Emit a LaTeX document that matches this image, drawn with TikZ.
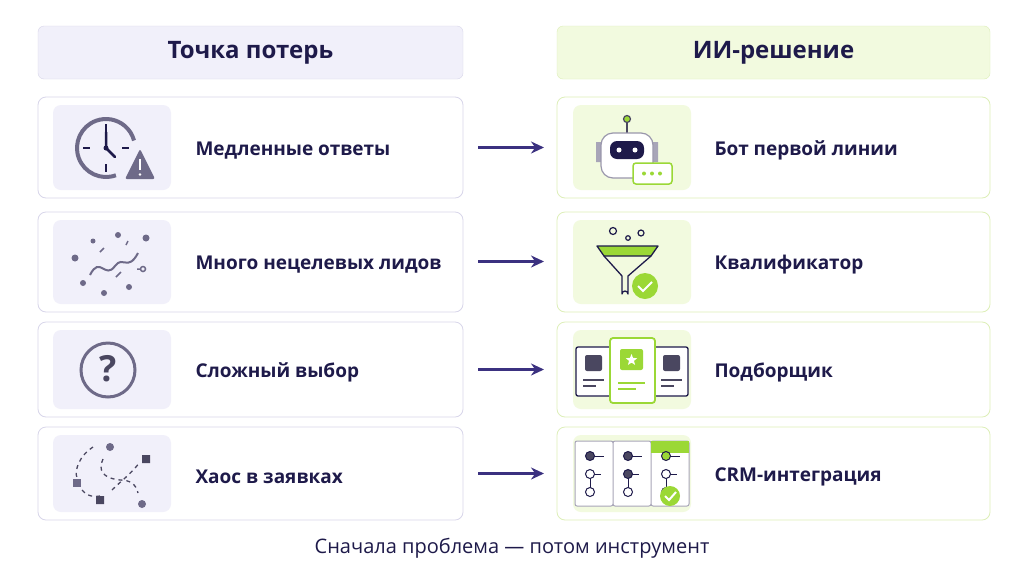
\documentclass[tikz,border=0pt]{standalone}
\usepackage{fontspec}
\setmainfont{Open Sans}
\usetikzlibrary{positioning,shapes.geometric,arrows.meta}

\definecolor{ink}{HTML}{1E1A4A}
\definecolor{lav}{HTML}{F1F0FA}
\definecolor{lavline}{HTML}{D8D6EA}
\definecolor{mint}{HTML}{F2FADF}
\definecolor{mintline}{HTML}{DDEFB8}
\definecolor{lime}{HTML}{9BD836}
\definecolor{slate}{HTML}{6E6A88}
\definecolor{darkslate}{HTML}{4A4760}
\definecolor{arrowc}{HTML}{3B3180}

\tikzset{
  header/.style={rounded corners=6pt, minimum width=425pt, minimum height=53pt,
    font=\fontsize{24}{28}\selectfont\bfseries, text=ink},
  card/.style={rounded corners=8pt, fill=white, minimum width=425pt, line width=0.8pt},
  tile/.style={rounded corners=8pt, minimum width=118pt},
  label/.style={font=\fontsize{19}{22}\selectfont\bfseries, text=ink, anchor=west},
  flow/.style={-{Stealth[length=13pt,width=12pt]}, line width=2.2pt, draw=arrowc},
}

\begin{document}
\begin{tikzpicture}[x=1pt,y=-1pt]

  \useasboundingbox[fill=white] (0,0) rectangle (1024,576);

  % Column headers
  \node[header, fill=lav, draw=lavline] (hLoss) at (250.5,52.5) {Точка потерь};
  \node[header, fill=mint, draw=mintline, minimum width=433pt] (hAI) at (773.5,52.5) {ИИ-решение};

  % Rows: centre y / height / left text / right text / arrow y
  \foreach \y/\h/\lt/\rt/\n/\ay in {147.5/101/Медленные ответы/Бот первой линии/1/147.5,
                               262/100/Много нецелевых лидов/Квалификатор/2/261.5,
                               369.5/95/Сложный выбор/Подборщик/3/369.5,
                               473.5/93/Хаос в заявках/CRM-интеграция/4/473.5} {
    \node[card, draw=lavline, minimum height=\h pt] (loss\n) at (250.5,\y) {};
    \node[card, draw=mintline, minimum width=433pt, minimum height=\h pt] (sol\n) at (773.5,\y) {};
    \node[tile, fill=lav, minimum height=\h pt-16pt] (lt\n) at (112,\y) {};
    \node[tile, fill=mint, minimum height=\h pt-16pt] (rt\n) at (632,\y) {};
    \node[label] (lx\n) at (192,\y+3) {\lt};
    \node[label] (rx\n) at (711,\y+3) {\rt};
    \coordinate (a\n) at (478,\ay);
    \coordinate (b\n) at (544,\ay);
    \draw[flow] (a\n) -- (b\n);
  }

  % Icon 1: clock with warning
  \draw[slate, line width=4pt] (106,148) ++(70:29) arc (70:345:29);
  \draw[ink, line width=2pt] (106,124) -- (106,132) (106,164) -- (106,172)
    (83,148) -- (90,148) (122,148) -- (129,148);
  \draw[ink, line width=2.5pt, line cap=round] (106,132) -- (106,148) -- (115,157);
  \fill[ink] (106,148) circle (2.5pt);
  \fill[slate, rounded corners=2pt] (140,149) -- (155,179) -- (125,179) -- cycle;
  \draw[white, line width=2.2pt] (140,159) -- (140,170);
  \fill[white] (140,174.5) circle (1.4pt);

  % Icon 2: scattered leads
  \draw[slate, line width=2pt] (90,275) .. controls (100,255) and (105,280) .. (115,266)
    .. controls (123,255) and (128,272) .. (138,253);
  \foreach \p/\r in {{(75,258)}/3.5, {(93,241)}/2.5, {(118,235)}/3, {(146,238)}/3.5,
                     {(83,283)}/3, {(104,293)}/3, {(129,287)}/3}
    \fill[slate] \p circle (\r pt);
  \draw[slate, line width=1.5pt] (100,252) -- (104,248) (126,245) -- (128,241)
    (116,277) -- (121,272) (143,269) circle (2.5pt) (137,269) -- (140,269);

  % Icon 3: question
  \draw[slate, line width=3pt] (108,370) circle (27pt);
  \node[text=darkslate, font=\fontsize{36}{36}\selectfont\bfseries] (qm) at (108,369) {?};

  % Icon 4: chaos of requests
  \draw[darkslate, line width=1.3pt, dash pattern=on 4pt off 4pt]
    (93,447) .. controls (80,455) and (74,470) .. (77,478)
    (82,490) .. controls (88,497) and (95,497) .. (100,496)
    (103,459) .. controls (98,470) and (102,478) .. (120,480)
    .. controls (130,480) and (136,484) .. (138,493)
    (112,490) .. controls (122,480) and (130,475) .. (140,462);
  \fill[slate] (110,447) circle (4pt) (142,504) circle (4pt);
  \fill[slate] (73,479) rectangle +(8,8);
  \fill[darkslate] (96,496) rectangle +(8,8) (142,455) rectangle +(8,8);

  % Icon 5: bot
  \draw[darkslate, line width=1.2pt] (627,123) -- (627,134);
  \draw[darkslate, fill=lime, line width=1.2pt] (627,119) circle (3.5pt);
  \fill[slate!60] (596,142) rectangle (604,162) (650,142) rectangle (658,162);
  \draw[slate!70, fill=white, line width=1.2pt, rounded corners=12pt] (601,133) rectangle (653,178);
  \fill[ink, rounded corners=7pt] (610,141) rectangle (644,159);
  \fill[white] (619,150) circle (2.5pt) (635,150) circle (2.5pt);
  \draw[lime, fill=white, line width=1.5pt, rounded corners=3pt]
    (633,163) rectangle (672,184);
  \foreach \x in {644,652,660} \fill[lime] (\x,173.5) circle (2pt);

  % Icon 6: funnel
  \draw[ink, fill=lime, line width=1.3pt, line join=round]
    (597,246) -- (658,246) -- (651,256) -- (604,256) -- cycle;
  \draw[ink, line width=1.3pt, line join=round]
    (604,256) -- (622,276) -- (622,294) arc (180:360:3) -- (628,276) -- (651,256);
  \draw[ink, line width=1.2pt] (613,231) circle (3.5pt) (628,238) circle (2.3pt) (641,233) circle (3pt);
  \fill[lime] (645,286) circle (13pt);
  \draw[white, line width=2pt] (638,286) -- (643,291) -- (652,282);

  % Icon 7: picker cards
  \draw[ink, fill=white, line width=1.3pt, rounded corners=2pt] (576,347) rectangle (612,396)
    (652,347) rectangle (688,396);
  \fill[darkslate, rounded corners=2pt] (585,355) rectangle (602,371) (663,355) rectangle (680,371);
  \draw[darkslate, line width=1.2pt] (583,380) -- (604,380) (583,386) -- (596,386)
    (661,380) -- (682,380) (661,386) -- (674,386);
  \draw[lime, fill=white, line width=1.8pt, rounded corners=3pt] (610,338) rectangle (655,403);
  \fill[lime, rounded corners=2pt] (620,349) rectangle (643,370);
  \node[star, star points=5, star point ratio=2.3, fill=white, inner sep=0pt, minimum size=12pt] (st) at (631.5,360) {};
  \draw[lime, line width=1.4pt] (618,383) -- (645,383) (618,389) -- (636,389);

  % Icon 8: CRM columns
  \draw[slate!60, fill=white, line width=1pt, rounded corners=2pt] (575,441) rectangle (613,506)
    (613,441) rectangle (651,506) (651,441) rectangle (689,506);
  \fill[lime] (651,441) rectangle (689,453);
  \foreach \x/\a/\b/\c in {590/darkslate/white/white, 628/darkslate/darkslate/white, 666/lime/white/white} {
    \draw[ink, line width=1pt] (\x,456) -- (\x+14,456) (\x,474) -- (\x+11,474) (\x,474) -- (\x,492);
    \draw[ink, fill=\a, line width=1pt] (\x,456) circle (4.5pt);
    \draw[ink, fill=\b, line width=1pt] (\x,474) circle (4.5pt);
    \draw[ink, fill=\c, line width=1pt] (\x,492) circle (4.5pt);
  }
  \fill[lime] (670,496) circle (10pt);
  \draw[white, line width=2pt] (665,496) -- (669,500) -- (676,492);

  % Caption
  \node[font=\fontsize{20}{24}\selectfont, text=ink] (cap) at (512,548) {Сначала проблема — потом инструмент};

\end{tikzpicture}
\end{document}
